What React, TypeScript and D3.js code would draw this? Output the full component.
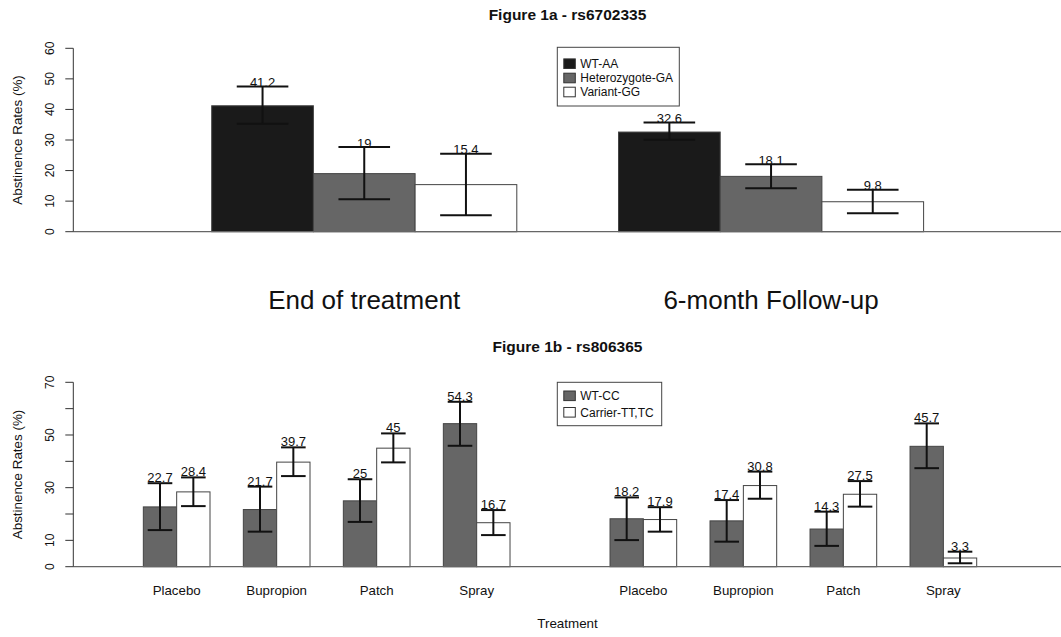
import React from 'react';
import * as d3 from 'd3';

// Figure 1a - rs6702335
const genotypes1a = ['WT-AA', 'Heterozygote-GA', 'Variant-GG'];
const periods = ['End of treatment', '6-month Follow-up'];
const rates1a = [[41.2, 19, 15.4], [32.6, 18.1, 9.8]];
const upper1a = [[47.5, 27.7, 25.5], [35.7, 22.1, 13.7]];
const lower1a = [[35.3, 10.6, 5.4], [30.1, 14.2, 6.0]];
const ticks1a = [0, 10, 20, 30, 40, 50, 60];

// Figure 1b - rs806365
const treatments = ['Placebo', 'Bupropion', 'Patch', 'Spray'];
const genotypes1b = ['WT-CC', 'Carrier-TT,TC'];
const rates1b = [
  [[22.7, 28.4], [21.7, 39.7], [25, 45], [54.3, 16.7]],
  [[18.2, 17.9], [17.4, 30.8], [14.3, 27.5], [45.7, 3.3]],
];
const upper1b = [
  [[31.7, 33.9], [30.4, 45.3], [33.2, 50.6], [62.6, 21.5]],
  [[26.3, 22.6], [25.3, 36.1], [20.9, 32.5], [54.4, 5.7]],
];
const lower1b = [
  [[13.9, 23.0], [13.3, 34.4], [17.0, 39.6], [45.9, 12.0]],
  [[10.1, 13.3], [9.5, 25.8], [7.9, 22.8], [37.4, 1.3]],
];
const ticks1b = [0, 10, 20, 30, 40, 50, 60, 70];
const tickLabels1b = [0, 10, 30, 50, 70];

const fills1a = ['#1a1a1a', '#666666', '#ffffff'];
const fills1b = ['#666666', '#ffffff'];

const FONT = '"Liberation Sans", Arial, Helvetica, sans-serif';
const W = 1061;
const H = 637;
const AXIS_X = 73.3;

function YAxis({ y, ticks, labels }: { y: d3.ScaleLinear<number, number>; ticks: number[]; labels: number[] }) {
  const [d0, d1] = y.domain();
  return (
    <g>
      <line x1={AXIS_X} x2={AXIS_X} y1={y(d0)} y2={y(d1)} stroke="#333" strokeWidth={1} />
      {ticks.map((t) => (
        <line key={t} x1={AXIS_X - 8} x2={AXIS_X} y1={y(t)} y2={y(t)} stroke="#333" strokeWidth={1} />
      ))}
      {labels.map((t) => (
        <text
          key={t}
          transform={`translate(${53.5},${y(t)}) rotate(-90)`}
          textAnchor="middle"
          fontSize={12}
          fill="#111"
        >
          {t}
        </text>
      ))}
      <text
        transform={`translate(21.5,${(y(d0) + y(d1)) / 2}) rotate(-90)`}
        textAnchor="middle"
        fontSize={13.4}
        fill="#111"
      >
        Abstinence Rates (%)
      </text>
    </g>
  );
}

function ErrorBar({ cx, yTop, yBot, half }: { cx: number; yTop: number; yBot: number; half: number }) {
  return (
    <g stroke="#111" strokeWidth={2}>
      <line x1={cx} x2={cx} y1={yTop} y2={yBot} />
      <line x1={cx - half} x2={cx + half} y1={yTop} y2={yTop} />
      <line x1={cx - half} x2={cx + half} y1={yBot} y2={yBot} />
    </g>
  );
}

function Legend({ x, y, w, h, rowY, labels, fills }: any) {
  return (
    <g>
      <rect x={x} y={y} width={w} height={h} fill="#fff" stroke="#444" strokeWidth={1} />
      {labels.map((l: string, i: number) => (
        <g key={l}>
          <rect x={x + 6.5} y={rowY[i] - 4.8} width={11.5} height={9.6} fill={fills[i]} stroke="#333" strokeWidth={1} />
          <text x={x + 23} y={rowY[i] + 4.3} fontSize={12} fill="#111">
            {l}
          </text>
        </g>
      ))}
    </g>
  );
}

export default function App() {
  // top chart scales (bar units, R barplot style: space=c(0,1))
  const x1 = d3.scaleLinear().domain([0, 8]).range([110, 923.6]);
  const y1 = d3.scaleLinear().domain([0, 60]).range([231.7, 48.3]);
  const bw1 = x1(1) - x1(0);

  // bottom chart scales
  const x2 = d3.scaleLinear().domain([0, 26]).range([110, 976.7]);
  const y2 = d3.scaleLinear().domain([0, 70]).range([566.7, 382.3]);
  const bw2 = x2(1) - x2(0);
  const pairLeft = (p: number, k: number) => 1 + (p * 4 + k) * 3 + (p > 0 ? 2 : 0);

  return (
    <svg
      width={W}
      height={H}
      style={{ position: 'absolute', left: 0, top: 0, fontFamily: FONT, background: '#fff' }}
    >
      <rect width={W} height={H} fill="#fff" />

      {/* Figure 1a */}
      <text x={567.5} y={20} textAnchor="middle" fontSize={15.5} fontWeight="bold" fill="#111">
        Figure 1a - rs6702335
      </text>
      {periods.map((p, g) =>
        genotypes1a.map((gt, i) => {
          const left = 1 + g * 4 + i;
          const bx = x1(left);
          const cx = bx + bw1 / 2;
          return (
            <g key={`${p}-${gt}`}>
              <rect
                x={bx}
                y={y1(rates1a[g][i])}
                width={bw1}
                height={y1(0) - y1(rates1a[g][i])}
                fill={fills1a[i]}
                stroke="#444"
                strokeWidth={1}
              />
            </g>
          );
        })
      )}
      <line x1={AXIS_X} x2={W} y1={y1(0)} y2={y1(0)} stroke="#666" strokeWidth={1.3} />
      {periods.map((p, g) =>
        genotypes1a.map((gt, i) => {
          const cx = x1(1 + g * 4 + i) + bw1 / 2;
          return (
            <g key={`e-${p}-${gt}`}>
              <ErrorBar cx={cx} yTop={y1(upper1a[g][i])} yBot={y1(lower1a[g][i])} half={25.8} />
              <text x={cx} y={y1(upper1a[g][i]) + 0.5} textAnchor="middle" fontSize={13} fill="#111">
                {rates1a[g][i]}
              </text>
            </g>
          );
        })
      )}
      {periods.map((p, g) => (
        <text
          key={p}
          x={(x1(1 + g * 4) + x1(4 + g * 4)) / 2}
          y={309.3}
          textAnchor="middle"
          fontSize={26}
          fill="#111"
        >
          {p}
        </text>
      ))}
      <YAxis y={y1} ticks={ticks1a} labels={ticks1a} />
      <Legend x={557.3} y={47.3} w={122} h={58.7} rowY={[63.7, 78, 92]} labels={genotypes1a} fills={fills1a} />

      {/* Figure 1b */}
      <text x={567.5} y={352} textAnchor="middle" fontSize={15.5} fontWeight="bold" fill="#111">
        Figure 1b - rs806365
      </text>
      {periods.map((p, g) =>
        treatments.map((t, k) =>
          genotypes1b.map((gt, i) => {
            const bx = x2(pairLeft(g, k) + i);
            const v = rates1b[g][k][i];
            return (
              <rect
                key={`${p}-${t}-${gt}`}
                x={bx}
                y={y2(v)}
                width={bw2}
                height={y2(0) - y2(v)}
                fill={fills1b[i]}
                stroke="#444"
                strokeWidth={1}
              />
            );
          })
        )
      )}
      <line x1={AXIS_X} x2={W} y1={y2(0)} y2={y2(0)} stroke="#666" strokeWidth={1.3} />
      {periods.map((p, g) =>
        treatments.map((t, k) =>
          genotypes1b.map((gt, i) => {
            const cx = x2(pairLeft(g, k) + i) + bw2 / 2;
            return (
              <g key={`e-${p}-${t}-${gt}`}>
                <ErrorBar cx={cx} yTop={y2(upper1b[g][k][i])} yBot={y2(lower1b[g][k][i])} half={12.3} />
                <text x={cx} y={y2(upper1b[g][k][i]) - 1} textAnchor="middle" fontSize={13} fill="#111">
                  {rates1b[g][k][i]}
                </text>
              </g>
            );
          })
        )
      )}
      {periods.map((p, g) =>
        treatments.map((t, k) => (
          <text
            key={`l-${p}-${t}`}
            x={x2(pairLeft(g, k) + 1)}
            y={595}
            textAnchor="middle"
            fontSize={13.3}
            fill="#111"
          >
            {t}
          </text>
        ))
      )}
      <text x={567.5} y={628} textAnchor="middle" fontSize={13.4} fill="#111">
        Treatment
      </text>
      <YAxis y={y2} ticks={ticks1b} labels={tickLabels1b} />
      <Legend x={557.3} y={382.3} w={104.4} h={43.4} rowY={[395.8, 412.3]} labels={genotypes1b} fills={fills1b} />
    </svg>
  );
}
